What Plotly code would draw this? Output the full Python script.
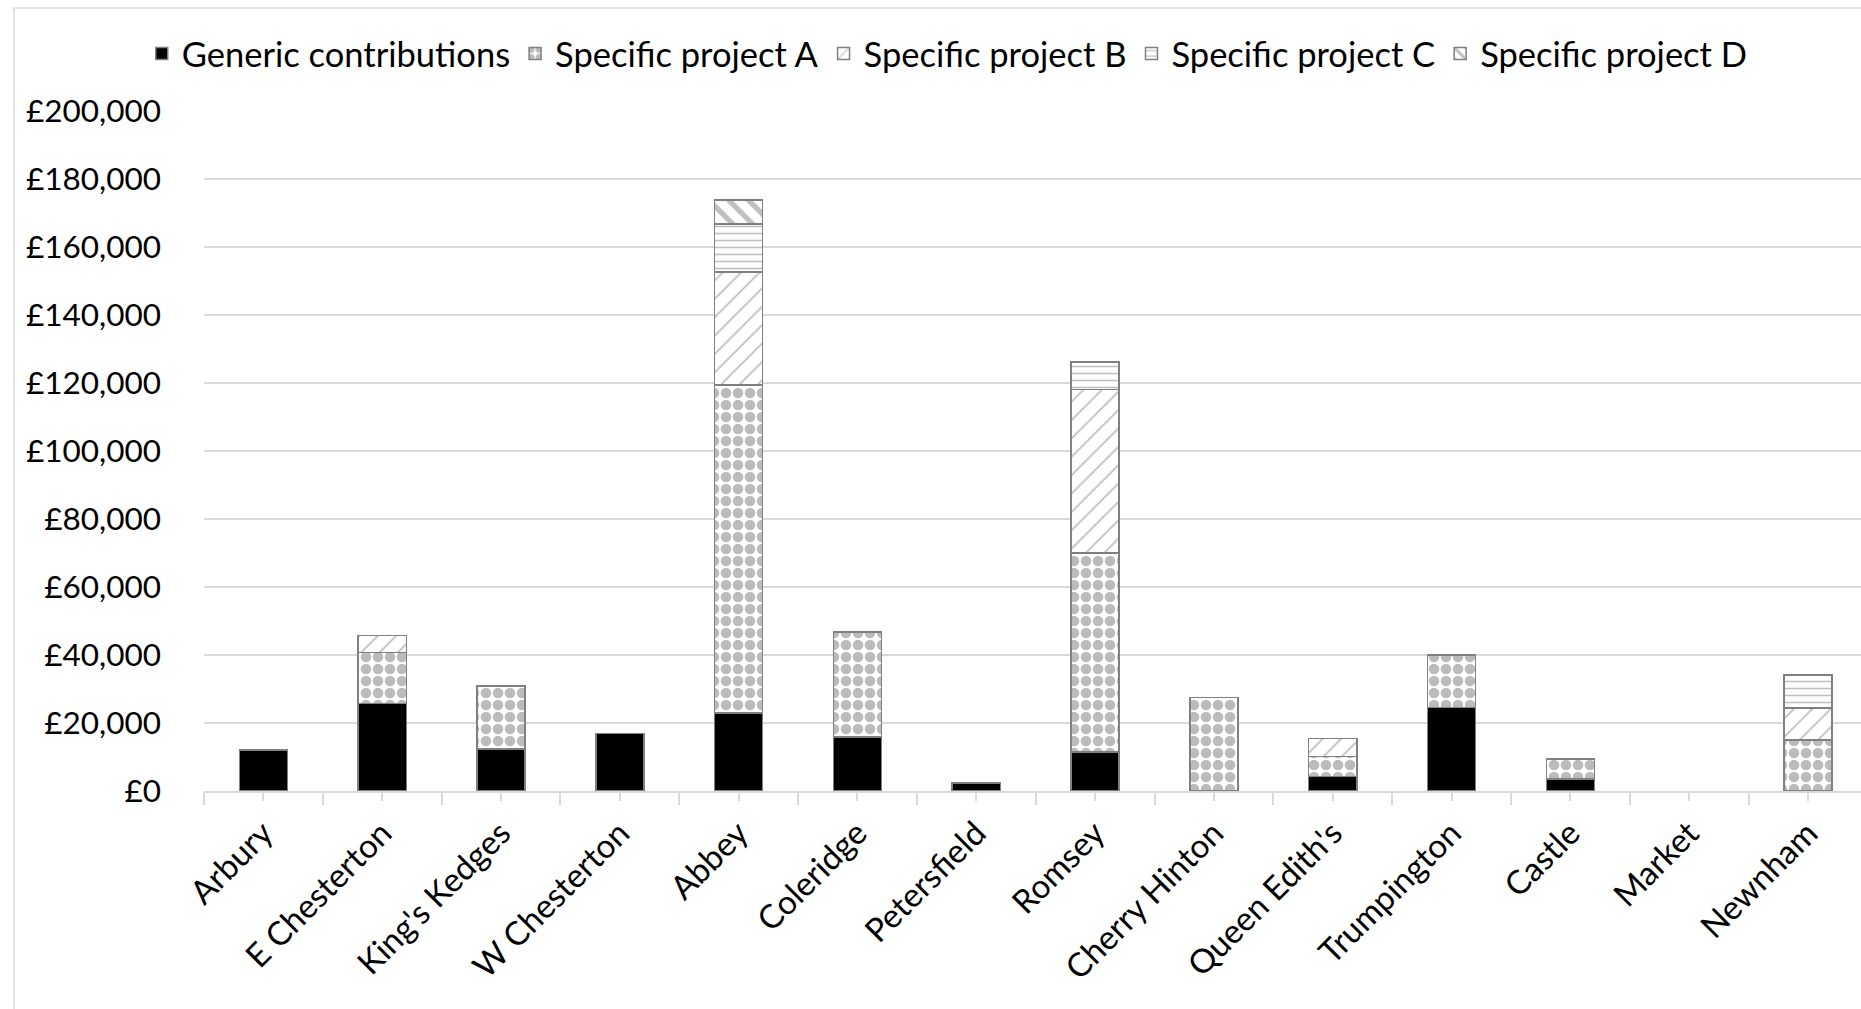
import plotly.graph_objects as go

# Wards and funding by source (GBP)
wards = ["Arbury", "E Chesterton", "King's Kedges", "W Chesterton", "Abbey",
         "Coleridge", "Petersfield", "Romsey", "Cherry Hinton", "Queen Edith's",
         "Trumpington", "Castle", "Market", "Newnham"]

generic = [12000, 25800, 12300, 16900, 23000, 15900, 2300, 11400, 0, 4300, 24600, 3500, 0, 0]
project_a = [0, 15000, 18600, 0, 96400, 30900, 0, 58600, 27500, 5800, 15400, 5900, 0, 15000]
project_b = [0, 5000, 0, 0, 33200, 0, 0, 48100, 0, 5400, 0, 0, 0, 9400]
project_c = [0, 0, 0, 0, 14100, 0, 0, 8100, 0, 0, 0, 0, 0, 9700]
project_d = [0, 0, 0, 0, 7100, 0, 0, 0, 0, 0, 0, 0, 0, 0]

y_ticks = [0, 20000, 40000, 60000, 80000, 100000, 120000, 140000, 160000, 180000, 200000]

FONT = "Lato"
GRID = "#d9d9d9"
EDGE = "#808080"

positions = list(range(len(wards)))


def nz(values):
    return [v if v else None for v in values]


series = [
    ("Generic contributions", generic, dict(color="black")),
    ("Specific project A", project_a,
     dict(color="white", pattern=dict(shape=".", fgcolor="#787878", bgcolor="white",
                                      size=12, solidity=0.6, fillmode="overlay"))),
    ("Specific project B", project_b,
     dict(color="white", pattern=dict(shape="/", fgcolor=EDGE, bgcolor="white",
                                      size=13, solidity=0.14, fillmode="overlay"))),
    ("Specific project C", project_c,
     dict(color="white", pattern=dict(shape="-", fgcolor=EDGE, bgcolor="white",
                                      size=7, solidity=0.22, fillmode="overlay"))),
    ("Specific project D", project_d,
     dict(color="white", pattern=dict(shape="\\", fgcolor=EDGE, bgcolor="white",
                                      size=14, solidity=0.38, fillmode="overlay"))),
]

fig = go.Figure()
for name, vals, marker in series:
    marker = dict(marker)
    marker["line"] = dict(color=EDGE, width=1.5)
    fig.add_trace(go.Bar(x=positions, y=nz(vals), name=name, marker=marker,
                         width=0.405))

fig.update_layout(
    width=1861, height=1009, autosize=False,
    margin=dict(l=204, r=0, t=111, b=218),
    barmode="stack",
    plot_bgcolor="white", paper_bgcolor="white",
    font=dict(family=FONT, size=34, color="black"),
    legend=dict(orientation="h", xref="container", yref="container",
                x=0.509, xanchor="center", y=0.947, yanchor="middle",
                font=dict(family=FONT, size=34.5), traceorder="normal",
                bgcolor="rgba(0,0,0,0)"),
    showlegend=True,
)

fig.update_xaxes(
    range=[-0.5, 13.446], tickmode="array", tickvals=positions, ticktext=wards,
    tickangle=-45, showgrid=False, zeroline=False, automargin=False,
    showline=True, linecolor=GRID, linewidth=1.5,
    ticks="outside", ticklen=8, tickwidth=1.5, tickcolor=GRID,
    minor=dict(tick0=0.5, dtick=1, ticks="outside", ticklen=12,
               tickwidth=1.5, tickcolor=GRID, showgrid=False),
    tickfont=dict(family=FONT, size=33, color="black"),
)

fig.update_yaxes(
    range=[0, 200000], tickmode="array", tickvals=y_ticks,
    ticktext=["£{:,}".format(v) for v in y_ticks],
    showgrid=True, gridcolor=GRID, gridwidth=1.5, zeroline=False, automargin=False,
    showline=False, ticks="", ticklabelstandoff=42,
    tickfont=dict(family=FONT, size=31.5, color="black"),
)

# chart area outline
fig.add_shape(type="rect", xref="paper", yref="paper",
              x0=(14 - 204) / 1657, x1=1.02,
              y0=-(1009 - 791 + 10) / 680, y1=(791 - 8) / 680,
              line=dict(color=GRID, width=1.5), fillcolor="rgba(0,0,0,0)",
              layer="below")

fig.write_html("out.html")
